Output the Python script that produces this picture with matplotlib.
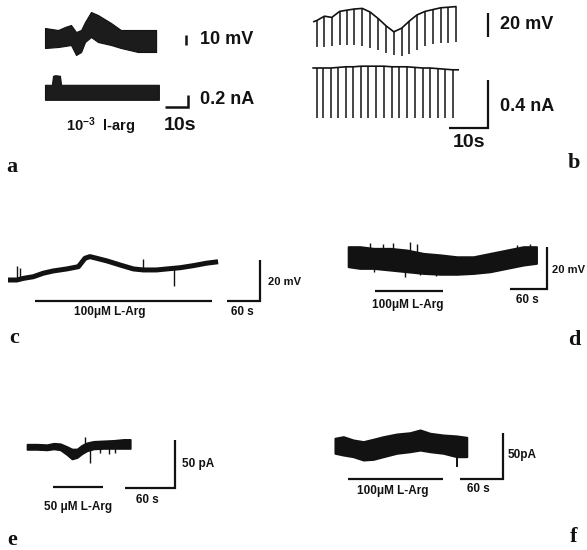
import matplotlib
matplotlib.use("Agg")
import matplotlib.pyplot as plt

# ---------------- data ----------------
# panel a, membrane potential band (s, mV)
a_v_t = [0, 5.7, 8.7, 11.3, 13.5, 15.7, 17.4, 20, 23, 28.7, 33, 40.4, 48.3]
a_v_top = [12, 10, 13, 15, 8, 10, 18, 28, 25, 17, 10, 10, 10]
a_v_bot = [-8, -7, -6, -5, -15, -12, -2, 3, -2, -5, -8, -12, -12]
# panel a, current band (s, nA)
a_i_t = [0, 3.0, 3.5, 4.5, 6.5, 7.0, 49.5]
a_i_top = [0.12, 0.12, 0.27, 0.28, 0.27, 0.12, 0.12]
a_i_bot = [-0.13, -0.13, -0.13, -0.13, -0.13, -0.13, -0.13]

# panel b, voltage envelope at each pulse (s, mV) and pulse tips
b_v_start = (-0.8, 7)
b_v_t = [0, 1.9, 3.8, 5.8, 7.6, 9.6, 11.6, 13.6, 15.7, 17.7, 19.7, 21.7, 23.7,
         25.6, 27.7, 29.7, 31.7, 33.7, 35.6]
b_v_env = [8, 11.5, 10.5, 15.5, 16.5, 17.5, 18, 15, 9.5, 3.5, -1.5, 1.5, 7.5,
           12.5, 15.5, 17, 18.5, 19, 19.5]
b_v_tip = [-14, -14, -13, -12.5, -12.5, -12.5, -13, -15, -16.5, -19, -21, -21.5,
           -20, -16.5, -13, -11.5, -11, -11, -10]
# panel b, current pulses (s, nA)
b_i_span = (-1.0, 36.2)
b_i_t = [-0.1, 1.6, 3.5, 5.5, 7.4, 9.3, 11.3, 13.2, 15.1, 17.2, 19.2, 21.1, 23,
         25.1, 27.1, 28.9, 30.9, 32.8, 34.8]
b_i_base = [0.0, 0.0, 0.0, 0.005, 0.01, 0.01, 0.015, 0.015, 0.015, 0.015, 0.01,
            0.01, 0.01, 0.005, 0.0, 0.0, -0.005, -0.01, -0.015]
b_i_tip = [-0.42, -0.42, -0.42, -0.42, -0.42, -0.42, -0.42, -0.42, -0.42, -0.42,
           -0.42, -0.42, -0.42, -0.42, -0.42, -0.42, -0.42, -0.42, -0.42]

# panel c (s, mV)
c_t = [0, 16, 28, 46, 64, 82, 107, 128, 140, 149, 161, 180, 204, 228, 246, 270,
       289, 313, 337, 361, 382]
c_v = [0, 0, 0.8, 1.6, 3.3, 4.4, 5.4, 6.5, 10.6, 11.4, 10.6, 9.3, 7.3, 5.4, 4.9,
       4.9, 5.4, 6, 7, 8.2, 8.9]
c_spk_t = [17, 22, 245, 301]
c_spk_base = [0, 0.3, 4.9, 5.2]
c_spk_tip = [7, 5.7, 10.2, -2.8]
c_drug = (49, 371)

# panel d (s, mV)
d_t = [2, 21, 43, 70, 97, 124, 151, 178, 205, 232, 259, 286, 307]
d_top = [4.9, 4.9, 4.1, 4.1, 3.3, 1.7, 1.0, 0.1, 0.1, 1.7, 3.3, 4.9, 4.9]
d_bot = [-4.6, -5.4, -5.4, -6.2, -7.0, -7.8, -8.2, -8.2, -7.8, -7.0, -5.4, -3.8, -3.0]
d_spk_t = [37, 59, 75, 102, 113, 275, 297, 43, 94, 118, 145]
d_spk_tip = [6.5, 6, 6.5, 7, 6, 5.7, 6, -7, -9.4, -8.6, -8.9]
d_drug = (45, 156)

# panel e (s, pA)
e_t = [0, 12, 24, 32, 40, 48, 54, 60, 66, 72, 80, 92, 104, 116, 124]
e_top = [4, 4, 3.5, 5, 4.5, 1.5, -1, -1, 3, 5.5, 7, 7.5, 8, 9, 9]
e_bot = [-1.5, -1.5, -2, -1, -2, -7, -11.5, -10, -6, -3, -1, -0.5, -0.5, -0.5, -0.5]
e_spk_t = [70, 76, 88, 98, 106]
e_spk_base = [2, 0, 3, 3.5, 4]
e_spk_tip = [11, -16, -5, -6, -5.5]
e_drug = (31, 91)

# panel f (s, pA)
f_t = [0, 11.6, 25.5, 39.5, 53.4, 67.4, 86, 104.6, 118.6, 132.5, 151.1, 169.7, 183.7]
f_top = [9.5, 11.2, 7.6, 5.8, 8.4, 11.2, 14.1, 15.5, 18.5, 14.9, 13, 12, 10.5]
f_bot = [-6.8, -8.7, -10.5, -14.1, -13.4, -10.5, -6.8, -5.1, -3.3, -5.1, -6.8,
         -10.5, -10.5]
f_spk_t = [170]
f_spk_tip = [-21.4]
f_drug = (18, 151)

# ---------------- figure ----------------
W, H = 587, 550
plt.rcParams["font.family"] = ["Liberation Sans", "DejaVu Sans"]
plt.rcParams["mathtext.fontset"] = "custom"
plt.rcParams["mathtext.rm"] = "Liberation Sans:bold"
plt.rcParams["mathtext.bf"] = "Liberation Sans:bold"
plt.rcParams["mathtext.it"] = "Liberation Sans:bold"

fig = plt.figure(figsize=(W / 100, H / 100), dpi=100)
fig.patch.set_facecolor("white")
INK = "#121212"


def overlay(x0, y0, sx, sy):
    """Full-figure transparent axes whose data origin sits at pixel (x0, y0)
    with sx pixels per x unit and sy pixels per y unit."""
    ax = fig.add_axes([0, 0, 1, 1])
    ax.set_xlim(-x0 / sx, (W - x0) / sx)
    ax.set_ylim((y0 - H) / sy, y0 / sy)
    ax.axis("off")
    ax.patch.set_alpha(0)
    return ax


def bar(ax, xs, ys, lw=1.6):
    ax.plot(xs, ys, color=INK, lw=lw, solid_capstyle="butt", solid_joinstyle="miter")


def label(ax, x, y, s, size, ha="left"):
    ax.text(x, y, s, ha=ha, va="center", fontsize=size, fontweight="bold", color=INK)


# ---- panel a ----
ax = overlay(45, 40, 2.3, 1.0)
ax.fill_between(a_v_t, a_v_bot, a_v_top, color="#1c1c1c", lw=0.8, edgecolor=INK)
bar(ax, [61.3, 61.3], [-5, 5], lw=1.8)
label(ax, 67.4, 0, "10 mV", 13)

ax = overlay(45, 92, 2.3, 60)
ax.fill_between(a_i_t, a_i_bot, a_i_top, color="#1c1c1c", lw=0.8, edgecolor=INK)
bar(ax, [52.2, 62.2, 62.2], [-0.25, -0.25, -0.05], lw=1.8)
label(ax, 67.4, -0.133, "0.2 nA", 13)
label(ax, 58.7, -0.55, "10s", 14, ha="center")
label(ax, 9.1, -0.567, r"$10^{-3}$  l-arg", 10.5)

# ---- panel b ----
ax = overlay(317, 30, 3.9, 1.2)
ax.plot([b_v_start[0]] + b_v_t, [b_v_start[1]] + b_v_env, color=INK, lw=1.2)
ax.vlines(b_v_t, b_v_tip, b_v_env, color=INK, lw=1.1)
bar(ax, [43.8, 43.8], [-5.8, 14.2], lw=1.6)
label(ax, 46.9, 4.2, "20 mV", 13)

ax = overlay(317, 68, 3.9, 120)
ax.plot([b_i_span[0]] + b_i_t + [b_i_span[1]], [0.0] + b_i_base + [-0.015],
        color=INK, lw=1.2)
ax.vlines(b_i_t, b_i_tip, b_i_base, color=INK, lw=1.1)
bar(ax, [33.8, 43.8, 43.8], [-0.5, -0.5, -0.1], lw=1.6)
label(ax, 46.9, -0.325, "0.4 nA", 13)
label(ax, 39.0, -0.625, "10s", 14, ha="center")

# ---- panel c ----
ax = overlay(8, 280, 0.55, 2.05)
ax.plot(c_t, c_v, color=INK, lw=3.6, solid_capstyle="butt")
ax.vlines(c_spk_t, c_spk_base, c_spk_tip, color=INK, lw=1.0)
bar(ax, list(c_drug), [-10.2, -10.2], lw=1.6)
label(ax, 185, -15.6, "100μM L-Arg", 8.5, ha="center")
bar(ax, [398, 458, 458], [-10.2, -10.2, 9.8], lw=1.6)
label(ax, 472.7, -1, "20 mV", 8)
label(ax, 427, -15.6, "60 s", 8.5, ha="center")

# ---- panel d ----
ax = overlay(347, 257, 0.617, 2.1)
ax.fill_between(d_t, d_bot, d_top, color=INK, lw=1.5, edgecolor=INK)
ax.vlines(d_spk_t, [0] * len(d_spk_t), d_spk_tip, color=INK, lw=1.0)
bar(ax, list(d_drug), [-16.2, -16.2], lw=1.6)
label(ax, 98.9, -22.9, "100μM L-Arg", 8.5, ha="center")
bar(ax, [264.2, 324.2, 324.2], [-15.2, -15.2, 4.8], lw=1.6)
label(ax, 332, -6.2, "20 mV", 8)
label(ax, 293, -20.5, "60 s", 8.5, ha="center")

# ---- panel e ----
ax = overlay(27, 448, 0.833, 0.96)
ax.fill_between(e_t, e_bot, e_top, color=INK, lw=1.2, edgecolor=INK)
ax.vlines(e_spk_t, e_spk_base, e_spk_tip, color=INK, lw=1.0)
bar(ax, list(e_drug), [-40.6, -40.6], lw=1.6)
label(ax, 61.2, -61.5, "50 μM L-Arg", 8.5, ha="center")
bar(ax, [117.6, 177.6, 177.6], [-41.7, -41.7, 8.3], lw=1.6)
label(ax, 186, -16.7, "50 pA", 8.5)
label(ax, 145, -54, "60 s", 8.5, ha="center")

# ---- panel f ----
ax = overlay(335, 447, 0.717, 0.92)
ax.fill_between(f_t, f_bot, f_top, color=INK, lw=1.5, edgecolor=INK)
ax.vlines(f_spk_t, [0] * len(f_spk_t), f_spk_tip, color=INK, lw=1.4)
bar(ax, list(f_drug), [-34.8, -34.8], lw=1.6)
label(ax, 80.9, -47.8, "100μM L-Arg", 8.5, ha="center")
bar(ax, [174.3, 234.3, 234.3], [-34.8, -34.8, 15.2], lw=1.6)
label(ax, 241.3, -8.7, "50pA", 8.5)
label(ax, 199.4, -45.7, "60 s", 8.5, ha="center")

# ---- panel letters ----
for s, px, py in [("a", 12, 167), ("b", 574, 163), ("c", 14, 338),
                  ("d", 574, 340), ("e", 12, 540), ("f", 574, 537)]:
    fig.text(px / W, 1 - py / H, s, ha="center", va="center", fontsize=16,
             fontweight="bold", family="Liberation Serif", color=INK)

fig.savefig("out.png", dpi=100, facecolor="white")
